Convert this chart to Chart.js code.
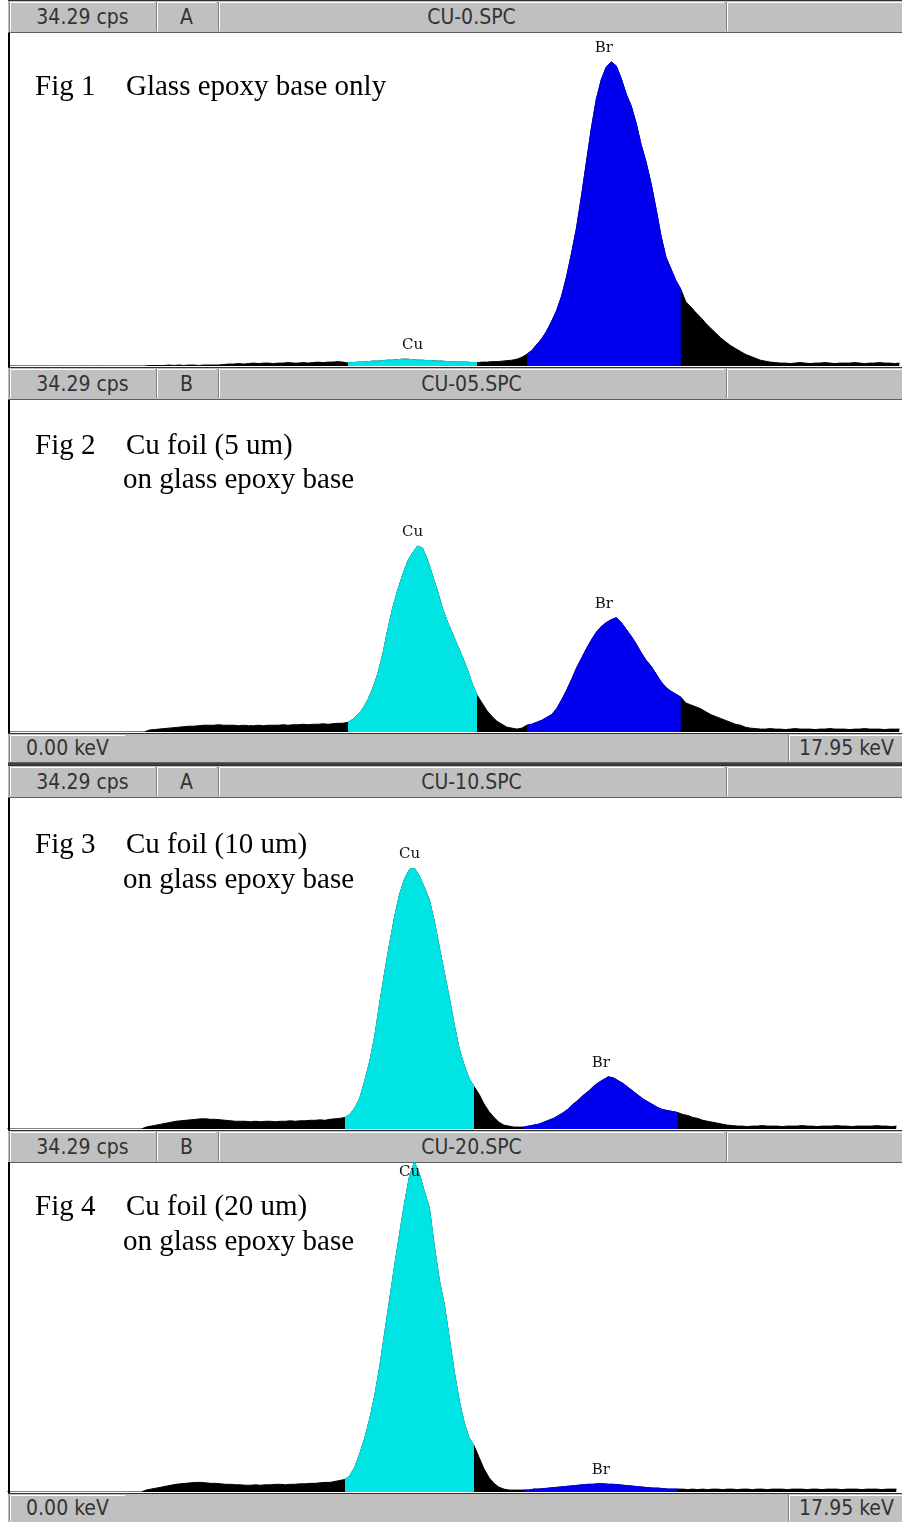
<!DOCTYPE html>
<html>
<head>
<meta charset="utf-8">
<script src="https://cdn.jsdelivr.net/npm/chart.js@4/dist/chart.umd.min.js"></script>
<style>
  body { margin: 0; width: 902px; height: 1522px; background: #fff; position: relative; overflow: hidden; }
  .bar { position: absolute; left: 8px; width: 894px; background: #c0c0c0; box-sizing: border-box;
         border-top: 1px solid #303030; border-bottom: 1px solid #606060; }
  .box { position: absolute; top: 1px; bottom: 1px; box-sizing: border-box;
         border-left: 1px solid #808080; box-shadow: inset 1px 1px 0 #ffffff;
         font-family: "DejaVu Sans Condensed", "Liberation Sans Narrow", "DejaVu Sans", sans-serif;
         font-size: 21px; color: #333; display: flex; align-items: center; justify-content: center; }
  .frame { position: absolute; left: 8px; width: 2px; background: #000; }
  .plot { position: absolute; }
  .cap { position: absolute; font-family: "Liberation Serif", "DejaVu Serif", serif; font-size: 29px;
         color: #000; white-space: pre; line-height: 34px; }
</style>
</head>
<body>
<script>
// spectrum scale (full scale of the display)
const xMaxKeV = 17.95;
const yMaxCps = 34.29;
const fullScaleLabel = "34.29 cps";
const lowEnergyLabel = "0.00 keV";
const highEnergyLabel = "17.95 keV";

const fileNames = ["CU-0.SPC", "CU-05.SPC", "CU-10.SPC", "CU-20.SPC"];
const channelIds = ["A", "B", "A", "B"];
const figNames = ["Fig 1", "Fig 2", "Fig 3", "Fig 4"];
const figLine1 = ["Glass epoxy base only", "Cu foil (5 um)", "Cu foil (10 um)", "Cu foil (20 um)"];
const figLine2 = ["", "on glass epoxy base", "on glass epoxy base", "on glass epoxy base"];

// regions of interest (keV)
const cuRoi = [6.8, 9.4];
const brRoi = [10.4, 13.5];
const peakNames = ["Cu", "Br"];
const peakLabelKeV = [8.1, 11.95];

// channel energies (keV), 0.1 keV bins
const energyKeV = [
  0.0, 0.1, 0.2, 0.3, 0.4, 0.5, 0.6, 0.7, 0.8, 0.9,
  1.0, 1.1, 1.2, 1.3, 1.4, 1.5, 1.6, 1.7, 1.8, 1.9,
  2.0, 2.1, 2.2, 2.3, 2.4, 2.5, 2.6, 2.7, 2.8, 2.9,
  3.0, 3.1, 3.2, 3.3, 3.4, 3.5, 3.6, 3.7, 3.8, 3.9,
  4.0, 4.1, 4.2, 4.3, 4.4, 4.5, 4.6, 4.7, 4.8, 4.9,
  5.0, 5.1, 5.2, 5.3, 5.4, 5.5, 5.6, 5.7, 5.8, 5.9,
  6.0, 6.1, 6.2, 6.3, 6.4, 6.5, 6.6, 6.7, 6.8, 6.9,
  7.0, 7.1, 7.2, 7.3, 7.4, 7.5, 7.6, 7.7, 7.8, 7.9,
  8.0, 8.1, 8.2, 8.3, 8.4, 8.5, 8.6, 8.7, 8.8, 8.9,
  9.0, 9.1, 9.2, 9.3, 9.4, 9.5, 9.6, 9.7, 9.8, 9.9,
  10.0, 10.1, 10.2, 10.3, 10.4, 10.5, 10.6, 10.7, 10.8, 10.9,
  11.0, 11.1, 11.2, 11.3, 11.4, 11.5, 11.6, 11.7, 11.8, 11.9,
  12.0, 12.1, 12.2, 12.3, 12.4, 12.5, 12.6, 12.7, 12.8, 12.9,
  13.0, 13.1, 13.2, 13.3, 13.4, 13.5, 13.6, 13.7, 13.8, 13.9,
  14.0, 14.1, 14.2, 14.3, 14.4, 14.5, 14.6, 14.7, 14.8, 14.9,
  15.0, 15.1, 15.2, 15.3, 15.4, 15.5, 15.6, 15.7, 15.8, 15.9,
  16.0, 16.1, 16.2, 16.3, 16.4, 16.5, 16.6, 16.7, 16.8, 16.9,
  17.0, 17.1, 17.2, 17.3, 17.4, 17.5, 17.6, 17.7, 17.8, 17.9
];

// counts per channel (cps)
const countsFig1 = [
  0, 0, 0, 0, 0, 0, 0, 0, 0, 0,
  0, 0, 0, 0, 0, 0, 0, 0, 0, 0,
  0, 0, 0, 0, 0, 0, 0, 0, 0.05, 0.05,
  0.05, 0.05, 0.1, 0.05, 0.1, 0.05, 0.1, 0.1, 0.05, 0.1,
  0.1, 0.1, 0.1, 0.15, 0.2, 0.2, 0.25, 0.2, 0.25, 0.3,
  0.25, 0.3, 0.3, 0.25, 0.3, 0.3, 0.35, 0.3, 0.3, 0.35,
  0.3, 0.35, 0.4, 0.35, 0.4, 0.4, 0.45, 0.4, 0.3, 0.35,
  0.4, 0.4, 0.45, 0.5, 0.5, 0.55, 0.6, 0.6, 0.65, 0.7,
  0.7, 0.65, 0.6, 0.6, 0.55, 0.55, 0.5, 0.5, 0.45, 0.45,
  0.4, 0.4, 0.4, 0.35, 0.35, 0.4, 0.4, 0.45, 0.45, 0.5,
  0.55, 0.6, 0.7, 0.9, 1.2, 1.6, 2.2, 2.8, 3.6, 4.6,
  5.7, 7.2, 9.2, 11.6, 14.2, 17.5, 21.0, 24.5, 27.5, 29.5,
  30.8, 31.3, 30.9, 29.6, 28.0, 26.8, 25.0, 22.8, 21.0, 18.8,
  16.2, 13.4, 11.2, 10.0, 8.8, 7.9, 6.6, 6.1, 5.5, 5.0,
  4.4, 3.9, 3.4, 2.9, 2.5, 2.1, 1.8, 1.5, 1.2, 1.0,
  0.8, 0.6, 0.5, 0.4, 0.35, 0.3, 0.3, 0.25, 0.3, 0.35,
  0.3, 0.25, 0.3, 0.3, 0.35, 0.3, 0.25, 0.3, 0.3, 0.3,
  0.35, 0.3, 0.25, 0.3, 0.3, 0.35, 0.3, 0.3, 0.25, 0.3
];
const countsFig2 = [
  0, 0, 0, 0, 0, 0, 0, 0, 0, 0,
  0, 0, 0, 0, 0, 0, 0, 0, 0, 0,
  0, 0, 0, 0, 0, 0, 0, 0, 0.2, 0.25,
  0.3, 0.35, 0.4, 0.45, 0.5, 0.55, 0.6, 0.6, 0.65, 0.7,
  0.7, 0.7, 0.75, 0.7, 0.7, 0.7, 0.65, 0.7, 0.65, 0.65,
  0.7, 0.65, 0.7, 0.7, 0.7, 0.75, 0.7, 0.75, 0.75, 0.8,
  0.75, 0.8, 0.8, 0.85, 0.8, 0.85, 0.9, 0.9, 1.0, 1.3,
  1.8, 2.4, 3.3, 4.5, 6.0, 8.0, 10.5, 12.8, 14.6, 16.2,
  17.6, 18.5, 19.2, 19.0, 17.8, 16.2, 14.6, 12.8, 11.4, 10.2,
  9.0, 7.8, 6.5, 5.0, 3.8, 3.0, 2.2, 1.6, 1.1, 0.8,
  0.5, 0.4, 0.3, 0.4, 0.7, 0.8, 1.0, 1.2, 1.5, 1.8,
  2.4, 3.3, 4.3, 5.4, 6.6, 7.6, 8.6, 9.5, 10.3, 10.9,
  11.3, 11.6, 11.8, 11.3, 10.6, 9.9, 9.1, 8.2, 7.4, 6.8,
  6.0, 5.2, 4.6, 4.2, 3.9, 3.6, 3.0, 2.8, 2.6, 2.4,
  2.1, 1.8, 1.6, 1.4, 1.2, 1.0, 0.8, 0.7, 0.5, 0.4,
  0.35, 0.3, 0.3, 0.35, 0.3, 0.3, 0.25, 0.3, 0.35, 0.3,
  0.3, 0.3, 0.25, 0.3, 0.3, 0.35, 0.3, 0.3, 0.3, 0.25,
  0.3, 0.3, 0.35, 0.3, 0.3, 0.3, 0.25, 0.3, 0.3, 0.3
];
const countsFig3 = [
  0, 0, 0, 0, 0, 0, 0, 0, 0, 0,
  0, 0, 0, 0, 0, 0, 0, 0, 0, 0,
  0, 0, 0, 0, 0, 0, 0, 0, 0.2, 0.3,
  0.4, 0.5, 0.6, 0.7, 0.8, 0.85, 0.9, 0.95, 1.0, 1.05,
  1.05, 1.0, 1.0, 0.95, 0.9, 0.85, 0.8, 0.8, 0.8, 0.75,
  0.8, 0.75, 0.8, 0.8, 0.75, 0.8, 0.8, 0.85, 0.8, 0.85,
  0.85, 0.9, 0.9, 0.95, 0.9, 1.0, 1.05, 1.1, 1.2, 1.5,
  2.2, 3.2, 5.0, 7.0, 9.6, 13.0, 16.2, 19.2, 22.0, 24.3,
  25.9, 26.9, 27.0, 26.2, 25.0, 23.7, 21.5, 18.8, 16.2, 13.6,
  10.8, 8.3, 6.6, 5.2, 4.4, 3.6, 2.6, 1.8, 1.2, 0.7,
  0.4, 0.3, 0.2, 0.2, 0.2, 0.3, 0.4, 0.5, 0.7, 0.9,
  1.1, 1.4, 1.7, 2.1, 2.6, 3.0, 3.5, 3.9, 4.4, 4.8,
  5.1, 5.4, 5.3, 5.0, 4.7, 4.3, 3.9, 3.5, 3.1, 2.8,
  2.5, 2.2, 2.0, 1.9, 1.8, 1.7, 1.5, 1.4, 1.2, 1.1,
  0.9, 0.8, 0.7, 0.6, 0.5, 0.4, 0.35, 0.3, 0.3, 0.25,
  0.3, 0.3, 0.35, 0.3, 0.3, 0.3, 0.25, 0.3, 0.3, 0.3,
  0.35, 0.3, 0.3, 0.25, 0.3, 0.3, 0.3, 0.35, 0.3, 0.3,
  0.25, 0.3, 0.3, 0.3, 0.3, 0.35, 0.3, 0.3, 0.25, 0.3
];
const countsFig4 = [
  0, 0, 0, 0, 0, 0, 0, 0, 0, 0,
  0, 0, 0, 0, 0, 0, 0, 0, 0, 0,
  0, 0, 0, 0, 0, 0, 0, 0, 0.2, 0.3,
  0.4, 0.5, 0.6, 0.7, 0.8, 0.85, 0.9, 0.95, 1.0, 1.0,
  0.95, 0.9, 0.9, 0.85, 0.8, 0.8, 0.75, 0.75, 0.7, 0.7,
  0.75, 0.7, 0.75, 0.75, 0.8, 0.8, 0.75, 0.8, 0.8, 0.85,
  0.85, 0.9, 0.9, 0.95, 1.0, 1.0, 1.1, 1.2, 1.3, 1.7,
  2.6, 4.0, 5.6, 7.6, 10.0, 13.0, 16.5, 20.0, 23.5, 26.8,
  30.0, 32.8, 34.3, 33.0, 31.2, 29.5, 25.5, 22.0, 19.5, 16.0,
  12.5, 9.5, 7.2, 5.6, 4.8, 3.6, 2.4, 1.5, 0.9, 0.5,
  0.3, 0.2, 0.2, 0.2, 0.2, 0.2, 0.3, 0.3, 0.35, 0.4,
  0.45, 0.5, 0.55, 0.6, 0.65, 0.7, 0.75, 0.8, 0.8, 0.85,
  0.85, 0.8, 0.8, 0.75, 0.7, 0.65, 0.6, 0.55, 0.5, 0.45,
  0.4, 0.4, 0.35, 0.3, 0.3, 0.3, 0.3, 0.25, 0.3, 0.25,
  0.3, 0.25, 0.3, 0.3, 0.25, 0.3, 0.3, 0.25, 0.3, 0.3,
  0.25, 0.3, 0.3, 0.25, 0.3, 0.3, 0.3, 0.25, 0.3, 0.3,
  0.3, 0.25, 0.3, 0.3, 0.25, 0.3, 0.3, 0.3, 0.25, 0.3,
  0.3, 0.3, 0.25, 0.3, 0.3, 0.3, 0.25, 0.3, 0.3, 0.3
];
const allCounts = [countsFig1, countsFig2, countsFig3, countsFig4];

// page layout (pixels)
const panels = [
  { header: 0,    top: 33,   bottom: 367,  footer: null, shift: 0,  capTop: 68,   line2Top: null },
  { header: 367,  top: 400,  bottom: 733,  footer: 733,  shift: 0,  capTop: 427,  line2Top: 461 },
  { header: 765,  top: 798,  bottom: 1130, footer: null, shift: -3, capTop: 826,  line2Top: 861 },
  { header: 1130, top: 1162, bottom: 1493, footer: 1493, shift: -3, capTop: 1188, line2Top: 1223 }
];
const HEADER_H = 33, FOOTER_H = 30;
const CYAN = "#00e4e4", BLUE = "#0000ee", BLACK = "#000000";

function el(cls, css, text) {
  const d = document.createElement("div");
  d.className = cls;
  Object.assign(d.style, css);
  if (text) d.textContent = text;
  document.body.appendChild(d);
  return d;
}

function addBox(bar, left, width, text) {
  const b = document.createElement("div");
  b.className = "box";
  b.style.left = left + "px";
  b.style.width = width + "px";
  b.textContent = text || "";
  bar.appendChild(b);
}

// peak labels "Cu" / "Br" above each ROI maximum
const peakLabelPlugin = {
  id: "peakLabels",
  afterDatasetsDraw(chart) {
    const { ctx, chartArea, scales: { x, y } } = chart;
    ctx.save();
    ctx.font = "15px 'DejaVu Serif', 'Liberation Serif', serif";
    ctx.fillStyle = "#111";
    ctx.textAlign = "center";
    ctx.textBaseline = "middle";
    peakNames.forEach((name, k) => {
      const pts = chart.data.datasets[k + 1].data;
      const peak = Math.max(...pts.map(p => p.y));
      let py = y.getPixelForValue(peak) - 14;
      if (py < chartArea.top + 10) py = chartArea.top + 10;
      ctx.fillText(name, x.getPixelForValue(peakLabelKeV[k]), py);
    });
    ctx.restore();
  }
};

function roiPoints(counts, roi) {
  const pts = [];
  energyKeV.forEach((e, i) => {
    if (e >= roi[0] - 1e-6 && e <= roi[1] + 1e-6) pts.push({ x: e, y: counts[i] });
  });
  return pts;
}

function lineSet(data, color, order) {
  return { data, backgroundColor: color, borderColor: color, borderWidth: 1,
           fill: "origin", pointRadius: 0, tension: 0, order };
}

panels.forEach((p, n) => {
  // header bar
  const hb = el("bar", { top: p.header + "px", height: HEADER_H + "px" });
  addBox(hb, 1, 146, fullScaleLabel);
  addBox(hb, 148, 60, channelIds[n]);
  addBox(hb, 210, 506, fileNames[n]);
  addBox(hb, 718, 180, "");

  // footer bar
  if (p.footer !== null) {
    const fb = el("bar", { top: p.footer + "px", height: FOOTER_H + "px" });
    addBox(fb, 1, 116, lowEnergyLabel);
    addBox(fb, 780, 116, highEnergyLabel);
  }

  // left frame line
  el("frame", { top: p.top + "px", height: (p.bottom - p.top) + "px" });

  // spectrum
  const holder = el("plot", { left: (10 + p.shift) + "px", top: p.top + "px" });
  const canvas = document.createElement("canvas");
  canvas.width = 892;
  canvas.height = p.bottom - p.top - 1;
  holder.appendChild(canvas);

  const counts = allCounts[n];
  const full = energyKeV.map((e, i) => ({ x: e, y: counts[i] }));

  new Chart(canvas, {
    type: "line",
    data: {
      datasets: [
        lineSet(full, BLACK, 3),
        lineSet(roiPoints(counts, cuRoi), CYAN, 1),
        lineSet(roiPoints(counts, brRoi), BLUE, 1)
      ]
    },
    options: {
      responsive: false,
      animation: false,
      devicePixelRatio: 1,
      events: [],
      layout: { padding: 0 },
      plugins: { legend: { display: false }, tooltip: { enabled: false } },
      scales: {
        x: { type: "linear", min: 0, max: xMaxKeV, display: false },
        y: { min: 0, max: yMaxCps, display: false }
      }
    },
    plugins: [peakLabelPlugin]
  });

  // figure captions
  el("cap", { left: "35px", top: p.capTop + "px" }, figNames[n]);
  el("cap", { left: "126px", top: p.capTop + "px" }, figLine1[n]);
  if (p.line2Top !== null) el("cap", { left: "123px", top: p.line2Top + "px" }, figLine2[n]);
});

// separator between the two halves
el("frame", { top: "763px", height: "2px", left: "8px", width: "894px", background: "#404040" });
</script>
</body>
</html>
